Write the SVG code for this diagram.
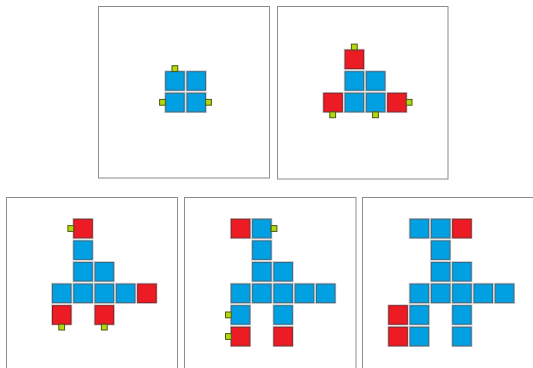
<svg xmlns="http://www.w3.org/2000/svg" xmlns:xlink="http://www.w3.org/1999/xlink" width="533" height="368" viewBox="0 0 533 368">
<style>
.frame{fill:#fff;stroke:#8c8c8c;stroke-width:1}
.halo{fill:none;stroke:#c4c4c4;stroke-width:1}
.blue{fill:#00A0E3;stroke:#336a87;stroke-width:1}
.red{fill:#ED1C24;stroke:#8a1b20;stroke-width:1}
.grn{fill:#B2D80E;stroke:#4d5a14;stroke-width:1}
</style>
<defs>
<g id="b"><rect class="halo" x="-0.8" y="-0.8" width="20" height="20"/><rect class="blue" x="0" y="0" width="18.5" height="18.5"/></g>
<g id="r"><rect class="halo" x="-0.8" y="-0.8" width="20" height="20"/><rect class="red" x="0" y="0" width="18.5" height="18.5"/></g>
<rect id="g" class="grn" x="0" y="0" width="5.8" height="5.8"/>
</defs>
<rect width="533" height="368" fill="#fff"/>
<g id="panel1">
<rect class="frame" x="98.5" y="6.5" width="171" height="171.5"/>
<use href="#b" x="165.7" y="71.7"/><use href="#b" x="187" y="71.7"/>
<use href="#b" x="165.7" y="93.3"/><use href="#b" x="187" y="93.3"/>
<use href="#g" x="172" y="65.7"/><use href="#g" x="159.6" y="99.4"/><use href="#g" x="205.6" y="99.4"/>
</g>
<g id="panel2">
<rect class="frame" x="277.5" y="6.5" width="170.5" height="172.5"/>
<use href="#r" x="345.1" y="50.1"/>
<use href="#b" x="345.1" y="71.7"/><use href="#b" x="366.4" y="71.7"/>
<use href="#r" x="323.8" y="93.3"/><use href="#b" x="345.1" y="93.3"/><use href="#b" x="366.4" y="93.3"/><use href="#r" x="387.7" y="93.3"/>
<use href="#g" x="351.4" y="44.1"/><use href="#g" x="329.8" y="111.9"/><use href="#g" x="372.6" y="111.9"/><use href="#g" x="406.2" y="99.4"/>
</g>
<g id="panel3">
<rect class="frame" x="6.5" y="197.5" width="171" height="175"/>
<use href="#r" x="73.8" y="219.3"/>
<use href="#b" x="73.8" y="240.9"/>
<use href="#b" x="73.8" y="262.5"/><use href="#b" x="95.1" y="262.5"/>
<use href="#b" x="52.5" y="284.1"/><use href="#b" x="73.8" y="284.1"/><use href="#b" x="95.1" y="284.1"/><use href="#b" x="116.4" y="284.1"/><use href="#r" x="137.7" y="284.1"/>
<use href="#r" x="52.5" y="305.7"/><use href="#r" x="95.1" y="305.7"/>
<use href="#g" x="67.9" y="225.6"/><use href="#g" x="58.8" y="324.2"/><use href="#g" x="101.4" y="324.2"/>
</g>
<g id="panel4">
<rect class="frame" x="184.5" y="197.5" width="171.5" height="175"/>
<use href="#r" x="231.3" y="219.3"/><use href="#b" x="252.6" y="219.3"/>
<use href="#b" x="252.6" y="240.9"/>
<use href="#b" x="252.6" y="262.5"/><use href="#b" x="273.9" y="262.5"/>
<use href="#b" x="231.3" y="284.1"/><use href="#b" x="252.6" y="284.1"/><use href="#b" x="273.9" y="284.1"/><use href="#b" x="295.2" y="284.1"/><use href="#b" x="316.5" y="284.1"/>
<use href="#b" x="231.3" y="305.7"/><use href="#b" x="273.9" y="305.7"/>
<use href="#r" x="231.3" y="327.3"/><use href="#r" x="273.9" y="327.3"/>
<use href="#g" x="271.1" y="225.6"/><use href="#g" x="225.5" y="312"/><use href="#g" x="225.5" y="333.6"/>
</g>
<g id="panel5">
<rect class="frame" x="362.5" y="197.5" width="175" height="175"/>
<use href="#b" x="410.1" y="219.3"/><use href="#b" x="431.4" y="219.3"/><use href="#r" x="452.7" y="219.3"/>
<use href="#b" x="431.4" y="240.9"/>
<use href="#b" x="431.4" y="262.5"/><use href="#b" x="452.7" y="262.5"/>
<use href="#b" x="410.1" y="284.1"/><use href="#b" x="431.4" y="284.1"/><use href="#b" x="452.7" y="284.1"/><use href="#b" x="474" y="284.1"/><use href="#b" x="495.3" y="284.1"/>
<use href="#r" x="388.8" y="305.7"/><use href="#b" x="410.1" y="305.7"/><use href="#b" x="452.7" y="305.7"/>
<use href="#r" x="388.8" y="327.3"/><use href="#b" x="410.1" y="327.3"/><use href="#b" x="452.7" y="327.3"/>
</g>
<g id="connectors"></g>
</svg>
